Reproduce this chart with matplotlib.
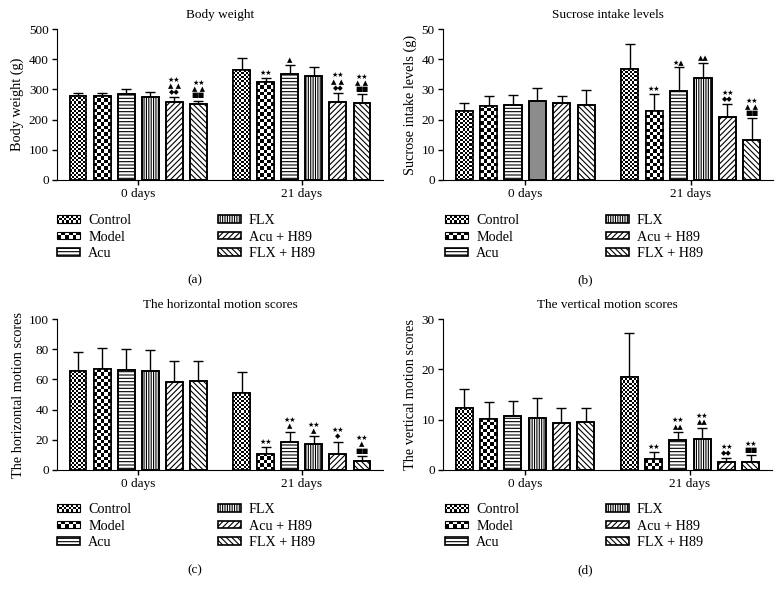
"""
Four bar panels: body weight, sucrose intake, horizontal and vertical motion
scores for six groups at day 0 and day 21 (mean + SD, significance marks)
"""

import numpy as np
import matplotlib
matplotlib.use("Agg")
import matplotlib.pyplot as plt
from matplotlib.patches import Rectangle
from matplotlib.legend_handler import HandlerBase

plt.rcParams["font.family"] = ["Liberation Serif", "DejaVu Serif"]
plt.rcParams["hatch.linewidth"] = 0.8

# ------------------------------- data ---------------------------------------#

groups = ["Control", "Model", "Acu", "FLX", "Acu + H89", "FLX + H89"]
days = ["0 days", "21 days"]

# (a) body weight
bw_mean_0 = [279, 279, 284, 274, 258, 251]
bw_sd_0 = [9, 9, 16, 19, 16, 12]
bw_mean_21 = [365, 323, 351, 343, 258, 254]
bw_sd_21 = [39, 15, 29, 30, 30, 30]
bw_marks_0 = [[], [], [], [], ["★★", "▲ ▲", "◆◆"], ["★★", "▲ ▲", "■■"]]
bw_marks_21 = [[], ["★★"], ["▲"], [], ["★★", "▲ ▲", "◆◆"], ["★★", "▲ ▲", "■■"]]

# (b) sucrose intake
su_mean_0 = [23.0, 24.6, 25.0, 26.0, 25.4, 25.0]
su_sd_0 = [2.5, 3.1, 3.3, 4.6, 2.3, 4.8]
su_mean_21 = [36.9, 22.7, 29.5, 33.8, 20.7, 13.3]
su_sd_21 = [8.1, 5.7, 7.9, 5.0, 4.5, 7.1]
su_marks_0 = [[], [], [], [], [], []]
su_marks_21 = [[], ["★★"], ["★▲"], ["▲▲"], ["★★", "◆◆"], ["★★", "▲ ▲", "■■"]]

# (c) horizontal motion
ho_mean_0 = [65.5, 66.8, 66.4, 65.5, 58.4, 59.1]
ho_sd_0 = [12.6, 14.0, 13.5, 13.7, 13.9, 12.8]
ho_mean_21 = [51.1, 10.4, 18.8, 17.3, 10.6, 6.0]
ho_sd_21 = [13.9, 4.6, 6.6, 5.3, 8.2, 3.5]
ho_marks_0 = [[], [], [], [], [], []]
ho_marks_21 = [[], ["★★"], ["★★", "▲"], ["★★", "▲"], ["★★", "◆"], ["★★", "▲", "■■"]]

# (d) vertical motion
ve_mean_0 = [12.3, 10.2, 10.8, 10.4, 9.3, 9.6]
ve_sd_0 = [3.8, 3.4, 2.9, 4.0, 3.0, 2.7]
ve_mean_21 = [18.4, 2.2, 5.9, 6.1, 1.5, 1.5]
ve_sd_21 = [8.8, 1.3, 1.7, 2.3, 0.8, 1.4]
ve_marks_0 = [[], [], [], [], [], []]
ve_marks_21 = [[], ["★★"], ["★★", "▲▲"], ["★★", "▲▲"], ["★★", "◆◆"], ["★★", "■■"]]

# ------------------------------- style --------------------------------------#

# hatch per group; None means a checkerboard drawn by hand (cells across bar)
HATCH = [None, None, "-----", "|||||||", "//////", "\\\\\\\\\\\\"]
CHECKER = {0: 8, 1: 5}
LEG_CHECKER = {0: (10, 3), 1: (6, 2)}
GROUP_GAP = 6.8
BAR_W = 0.7
FIG_W, FIG_H = 780, 596
FS = 9.5


def fig_rect(left, top, right, bottom):
    """pixel box -> figure fraction rect"""
    return [left / FIG_W, 1 - bottom / FIG_H, (right - left) / FIG_W, (bottom - top) / FIG_H]


def checker_fill(ax, bar, ncols):
    """paint a black/white checkerboard inside a bar, clipped to it"""
    x0, w, h = bar.get_x(), bar.get_width(), bar.get_height()
    fig = ax.figure
    pos = ax.get_position()
    x_lo, x_hi = ax.get_xlim()
    y_lo, y_hi = ax.get_ylim()
    px_x = pos.width * fig.bbox.width / (x_hi - x_lo)
    px_y = pos.height * fig.bbox.height / (y_hi - y_lo)
    cell_w = w / ncols
    cell_h = cell_w * px_x / px_y
    nrows = int(np.ceil(h / cell_h)) + 1
    ii, jj = np.indices((nrows, ncols))
    grid = (ii + jj) % 2
    im = ax.imshow(grid, extent=(x0, x0 + w, 0, nrows * cell_h), origin="lower",
                   cmap="gray", interpolation="nearest", aspect="auto", zorder=2.2)
    im.set_clip_path(bar)


class CheckerHandler(HandlerBase):
    def __init__(self, ncols, nrows):
        super().__init__()
        self.ncols = ncols
        self.nrows = nrows

    def create_artists(self, legend, orig_handle, xdescent, ydescent, width, height,
                       fontsize, trans):
        x0, y0 = -xdescent, -ydescent
        out = [Rectangle((x0, y0), width, height, fc="white", ec="none", transform=trans)]
        cw = width / self.ncols
        ch = height / self.nrows
        for i in range(self.nrows):
            for j in range(self.ncols):
                if (i + j) % 2 == 0:
                    out.append(Rectangle((x0 + j * cw, y0 + i * ch), cw, ch, fc="black",
                                         ec="none", transform=trans))
        out.append(Rectangle((x0, y0), width, height, fc="none", ec="black", lw=0.8,
                             transform=trans))
        return out


def draw_panel(ax, means, sds, marks, ymax, ystep, ylabel, title, solid=()):
    centers = np.array([0.0, GROUP_GAP])
    offs = np.arange(len(groups)) - (len(groups) - 1) / 2
    ax.set_xlim(offs[0] - 0.875, GROUP_GAP + offs[-1] + 0.875)
    ax.set_ylim(0, ymax)

    handles = []
    for g in range(len(groups)):
        xs = centers + offs[g]
        vals = [means[0][g], means[1][g]]
        errs = [sds[0][g], sds[1][g]]
        bars = ax.bar(xs, vals, width=BAR_W, color="white", edgecolor="black",
                      hatch=HATCH[g], linewidth=1.2, zorder=2)
        for d, b in enumerate(bars):
            if (d, g) in solid:
                b.set_hatch(None)
                b.set_facecolor("#8c8c8c")
            if g in CHECKER:
                checker_fill(ax, b, CHECKER[g])
        ax.bar(xs, vals, width=BAR_W, fill=False, edgecolor="black", linewidth=1.2, zorder=3)
        ax.errorbar(xs, vals, yerr=[np.zeros(2), errs], fmt="none", ecolor="black",
                    elinewidth=1.0, capsize=3.6, capthick=1.0, zorder=1.5)
        for d in range(2):
            m = marks[d][g]
            if m:
                ax.annotate("\n".join(m), xy=(xs[d], vals[d] + errs[d]), xytext=(0, 1.5),
                            textcoords="offset points", ha="center", va="bottom",
                            fontsize=5, linespacing=1.05, family=["DejaVu Sans"])
        handles.append(bars[0] if (0, g) not in solid else bars[1])

    ax.set_xlim(offs[0] - 0.875, GROUP_GAP + offs[-1] + 0.875)
    ax.set_ylim(0, ymax)
    ax.set_yticks(np.arange(0, ymax + ystep / 2, ystep))
    ax.set_xticks(centers)
    ax.set_xticklabels(days)
    ax.spines["top"].set_visible(False)
    ax.spines["right"].set_visible(False)
    ax.tick_params(direction="out", length=3.5, width=1.0, labelsize=FS, pad=2.5)
    ax.set_ylabel(ylabel, fontsize=10.3, labelpad=3)
    ax.set_title(title, fontsize=9.5, pad=8)
    return handles


def add_legend(ax, handles, left_px, top_px):
    hmap = {handles[g]: CheckerHandler(*LEG_CHECKER[g]) for g in LEG_CHECKER}
    ax.legend(handles, groups, ncol=2, loc="upper left", frameon=False,
              bbox_to_anchor=(left_px / FIG_W, 1 - top_px / FIG_H),
              bbox_transform=ax.figure.transFigure, fontsize=10.2, borderpad=0,
              borderaxespad=0, handlelength=1.65, handleheight=0.4,
              handletextpad=0.55, labelspacing=0.25, columnspacing=6.1,
              handler_map=hmap)


def main() -> None:
    fig = plt.figure(figsize=(FIG_W / 100, FIG_H / 100), dpi=100)

    ax_a = fig.add_axes(fig_rect(57, 29, 383, 180))
    ax_b = fig.add_axes(fig_rect(443, 29, 773, 180))
    ax_c = fig.add_axes(fig_rect(57, 319, 383, 470))
    ax_d = fig.add_axes(fig_rect(443, 319, 772, 470))

    h = draw_panel(ax_a, [bw_mean_0, bw_mean_21], [bw_sd_0, bw_sd_21],
                   [bw_marks_0, bw_marks_21], 500, 100, "Body weight (g)", "Body weight")
    add_legend(ax_a, h, 57, 214)

    h = draw_panel(ax_b, [su_mean_0, su_mean_21], [su_sd_0, su_sd_21],
                   [su_marks_0, su_marks_21], 50, 10, "Sucrose intake levels (g)",
                   "Sucrose intake levels", solid={(0, 3)})
    add_legend(ax_b, h, 445, 214)

    h = draw_panel(ax_c, [ho_mean_0, ho_mean_21], [ho_sd_0, ho_sd_21],
                   [ho_marks_0, ho_marks_21], 100, 20, "The horizontal motion scores",
                   "The horizontal motion scores")
    add_legend(ax_c, h, 57, 503)

    h = draw_panel(ax_d, [ve_mean_0, ve_mean_21], [ve_sd_0, ve_sd_21],
                   [ve_marks_0, ve_marks_21], 30, 10, "The vertical motion scores",
                   "The vertical motion scores")
    add_legend(ax_d, h, 445, 503)

    for x, y, lab in [(195, 280, "(a)"), (585, 280, "(b)"), (195, 570, "(c)"), (585, 570, "(d)")]:
        fig.text(x / FIG_W, 1 - y / FIG_H, lab, ha="center", va="center", fontsize=FS)

    fig.savefig("out.png", dpi=100)
    plt.close(fig)


if __name__ == "__main__":
    main()
